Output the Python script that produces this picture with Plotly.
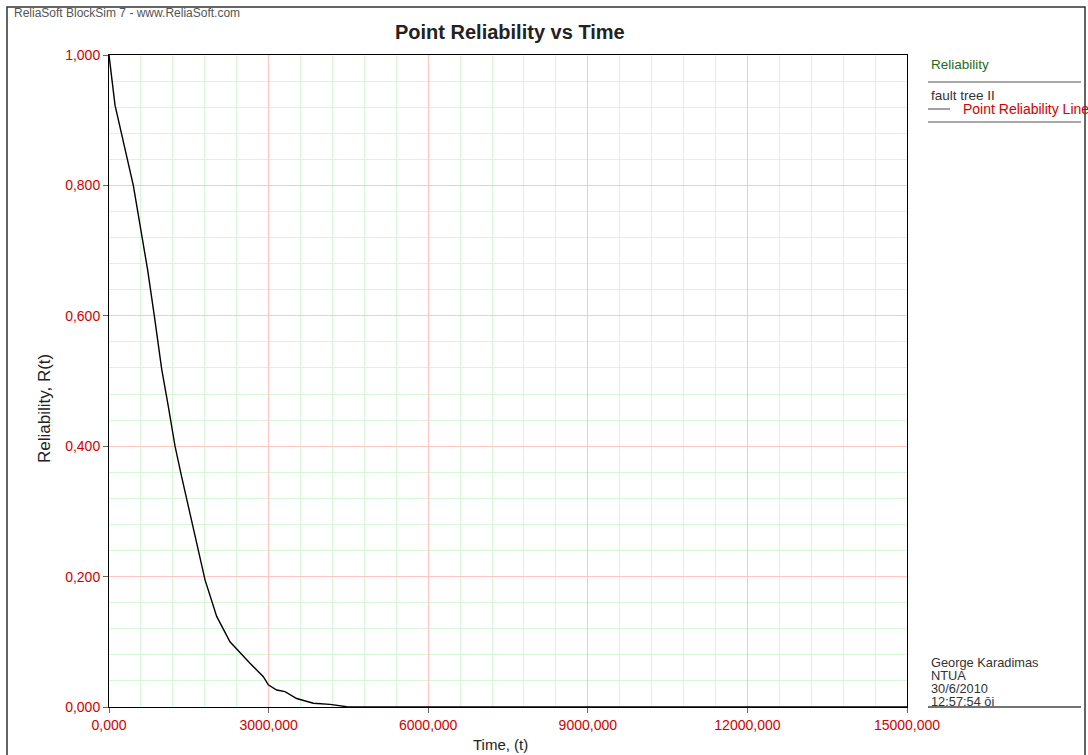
import plotly.graph_objects as go

# ---- data ----
time_t = [0, 113, 457, 727, 852, 989, 1115, 1241, 1366, 1541, 1805, 2024, 2274,
          2650, 2901, 2995, 3152, 3308, 3528, 3841, 4154, 4468, 4656, 15000]
reliability = [1.0, 0.923, 0.80, 0.67, 0.60, 0.519, 0.461, 0.40, 0.353, 0.289, 0.195,
               0.139, 0.100, 0.067, 0.0465, 0.034, 0.026, 0.0235, 0.013, 0.0057,
               0.004, 0.0005, 0.0, 0.0]
x_tickvals = [0, 3000, 6000, 9000, 12000, 15000]
x_ticktext = ["0,000", "3000,000", "6000,000", "9000,000", "12000,000", "15000,000"]
y_tickvals = [0, 0.2, 0.4, 0.6, 0.8, 1.0]
y_ticktext = ["0,000", "0,200", "0,400", "0,600", "0,800", "1,000"]
info_lines = ["George Karadimas", "NTUA", "30/6/2010", "12:57:54 ōi"]

W, H = 1088, 755
L, R, T, B = 109, 907, 55, 707  # plot area in pixels

def px(x):
    return (x - L) / (R - L)

def py(y):
    return (B - y) / (B - T)

BASE = "Liberation Sans, Arial, sans-serif"
RED = "#d40000"

fig = go.Figure()
fig.add_trace(go.Scatter(x=time_t, y=reliability, mode="lines",
                         line=dict(color="black", width=1.4), showlegend=False,
                         name="Point Reliability Line"))

axis_common = dict(showline=True, mirror=True, linecolor="black", linewidth=1,
                   ticks="outside", ticklen=5, tickcolor="#666",
                   tickfont=dict(family=BASE, size=14, color=RED),
                   showgrid=True, gridcolor="#ffc4c4", gridwidth=1, zeroline=False)

fig.update_xaxes(range=[0, 15000], tickvals=x_tickvals, ticktext=x_ticktext,
                 minor=dict(dtick=600, tick0=0, showgrid=True, gridcolor="#d8f6d8", ticks=""),
                 **axis_common)
fig.update_yaxes(range=[0, 1], tickvals=y_tickvals, ticktext=y_ticktext,
                 minor=dict(dtick=0.04, tick0=0, showgrid=True, gridcolor="#d8f6d8", ticks=""),
                 **axis_common)

shapes = []
# outer frame
shapes.append(dict(type="rect", xref="paper", yref="paper",
                   x0=px(7), x1=px(1085), y0=py(770), y1=py(7),
                   line=dict(color="#333", width=1.5), layer="above"))
# legend separator lines
for yy, col in [(82, "#8a8a8a"), (122, "#8a8a8a"), (707, "#444")]:
    shapes.append(dict(type="line", xref="paper", yref="paper",
                       x0=px(928), x1=px(1081), y0=py(yy), y1=py(yy),
                       line=dict(color=col, width=1.5)))
# legend sample line
shapes.append(dict(type="line", xref="paper", yref="paper",
                   x0=px(928), x1=px(950), y0=py(109), y1=py(109),
                   line=dict(color="#444", width=1)))

ann = []
def text(x, y, s, size=12, color="#333", xanchor="left", yanchor="middle", family=BASE, angle=0, bold=False):
    ann.append(dict(x=px(x), y=py(y), xref="paper", yref="paper", text=("<b>%s</b>" % s) if bold else s,
                    showarrow=False, xanchor=xanchor, yanchor=yanchor, textangle=angle,
                    font=dict(family=family, size=size, color=color)))

text(12, 13, "ReliaSoft BlockSim 7 - www.ReliaSoft.com", size=12, color="#555")
text(510, 32, "Point Reliability vs Time", size=20, color="#222", xanchor="center", bold=True)
text(44, 409, "Reliability, R(t)", size=17, color="#222", xanchor="center", angle=-90)
text(500, 745, "Time, (t)", size=15, color="#222", xanchor="center")
text(929, 64, "Reliability", size=13.5, color="#1e6b1e")
text(929, 96, "fault tree II", size=13.5, color="#333")
text(961, 109, "Point Reliability Line", size=14, color=RED)
for i, s in enumerate(info_lines):
    text(929, 662 + 13 * i, s, size=12.8, color="#333")

fig.update_layout(width=W, height=H, autosize=False,
                  margin=dict(l=L, r=W - R, t=T, b=H - B, pad=0),
                  paper_bgcolor="white", plot_bgcolor="white",
                  shapes=shapes, annotations=ann, showlegend=False)

fig.write_html("out.html", config={"displayModeBar": False},
               post_script="document.body.style.margin='0';document.body.style.overflow='hidden';")
